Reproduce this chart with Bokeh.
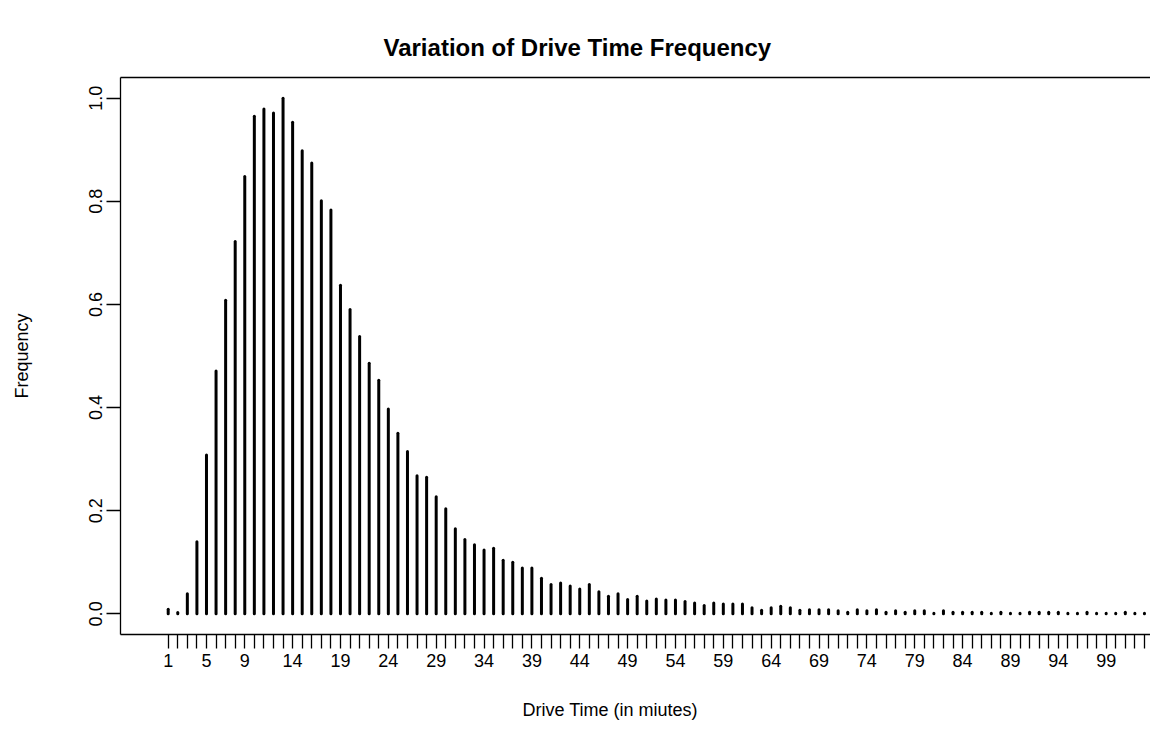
from bokeh.plotting import figure
from bokeh.models import (Range1d, FixedTicker, LinearAxis, Title,
                          ColumnDataSource, NumeralTickFormatter)
from bokeh.embed import file_html
from bokeh.resources import INLINE

# ---------------- data ----------------
drive_time = list(range(1, 104))
frequency = [
    0.009, 0.0025, 0.039, 0.140, 0.308, 0.471, 0.608, 0.722, 0.848, 0.965,
    0.979, 0.971, 1.000, 0.953, 0.898, 0.874, 0.801, 0.783, 0.637, 0.590,
    0.538, 0.486, 0.453, 0.397, 0.350, 0.315, 0.268, 0.265, 0.227, 0.204,
    0.165, 0.144, 0.134, 0.124, 0.127, 0.104, 0.100, 0.089, 0.089, 0.069,
    0.057, 0.060, 0.054, 0.048, 0.057, 0.043, 0.034, 0.039, 0.028, 0.034,
    0.025, 0.029, 0.027, 0.027, 0.024, 0.021, 0.016, 0.021, 0.019, 0.019,
    0.019, 0.012, 0.007, 0.012, 0.015, 0.012, 0.007, 0.008, 0.008, 0.008,
    0.006, 0.003, 0.008, 0.006, 0.008, 0.003, 0.006, 0.003, 0.006, 0.006,
    0.001, 0.006, 0.003, 0.003, 0.003, 0.003, 0.001, 0.003, 0.001, 0.001,
    0.003, 0.003, 0.003, 0.003, 0.001, 0.001, 0.003, 0.001, 0.001, 0.001,
    0.003, 0.001, 0.001,
]
x_tick_labels = [1, 5, 9, 14, 19, 24, 29, 34, 39, 44, 49, 54, 59, 64, 69,
                 74, 79, 84, 89, 94, 99]
y_ticks = [0.0, 0.2, 0.4, 0.6, 0.8, 1.0]

title_text = "Variation of Drive Time Frequency"
x_title = "Drive Time (in miutes)"
y_title = "Frequency"

# ---------------- layout ----------------
W, H = 1150, 753
FL, FR, FT, FB = 120, 1150, 77, 634     # frame edges in pixels
X1_PX, DX = 167.7, 9.571                # pixel of x=1 and px per unit
x_start = 1 - (X1_PX - FL) / DX
x_end = x_start + (FR - FL) / DX
y_start, y_end = -0.04, 1.04

FONT = "Liberation Sans"

p = figure(width=W, height=H, output_backend="svg", toolbar_location=None,
           x_range=Range1d(x_start, x_end), y_range=Range1d(y_start, y_end),
           min_border_left=FL, min_border_right=W - FR,
           min_border_top=FT, min_border_bottom=H - FB)
p.outline_line_color = None
p.xgrid.visible = False
p.ygrid.visible = False
p.background_fill_color = "white"
p.border_fill_color = "white"

src = ColumnDataSource(dict(x=drive_time, y=frequency,
                            y0=[0] * len(drive_time)))
p.segment(x0="x", y0="y0", x1="x", y1="y", source=src,
          line_width=3, line_color="black", line_cap="round")

# x axis
xa = p.xaxis[0]
xa.ticker = FixedTicker(ticks=drive_time)
xa.major_label_overrides = {t: (str(t) if t in x_tick_labels else "")
                            for t in drive_time}
# y axis
ya = p.yaxis[0]
ya.ticker = FixedTicker(ticks=y_ticks)
ya.formatter = NumeralTickFormatter(format="0.0")
ya.major_label_orientation = "vertical"
ya.axis_label = y_title
ya.axis_label_standoff = 55
ya.axis_label_text_font = FONT
ya.axis_label_text_font_size = "18px"
ya.axis_label_text_font_style = "normal"
ya.axis_label_text_color = "black"

for ax in (xa, ya):
    ax.axis_line_color = "black"
    ax.axis_line_width = 1.3
    ax.major_tick_line_color = "black"
    ax.major_tick_line_width = 1.3
    ax.major_tick_in = 0
    ax.major_tick_out = 14
    ax.minor_tick_line_color = None
    ax.major_label_text_font = FONT
    ax.major_label_text_font_size = "18px"
    ax.major_label_text_color = "black"
xa.major_label_standoff = 5
ya.major_label_standoff = 4

# top box line
top = LinearAxis(ticker=FixedTicker(ticks=[]), major_tick_out=0,
                 major_tick_in=0, minor_tick_line_color=None,
                 major_label_text_font_size="0px",
                 axis_line_color="black", axis_line_width=1.3)
p.add_layout(top, "above")

# main title
p.title.text = title_text
p.title.align = "left"
p.title.offset = 263
p.title.standoff = 34
p.title.text_font = FONT
p.title.text_font_style = "bold"
p.title.text_font_size = "24px"
p.title.text_color = "black"

# x axis title as a below-title for exact horizontal placement
xt = Title(text=x_title, align="left", offset=402, vertical_align="top",
           standoff=60, text_font=FONT, text_font_style="normal",
           text_font_size="18px", text_color="black")
p.add_layout(xt, "below")

open("out.html", "w").write(file_html(p, INLINE))
